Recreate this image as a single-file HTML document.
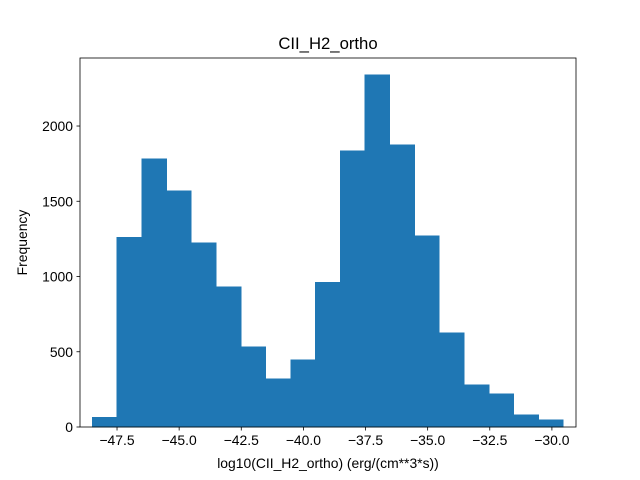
<!DOCTYPE html>
<html><head><meta charset="utf-8"><style>
body{margin:0;background:#fff}
svg{display:block;font-family:"Liberation Sans","DejaVu Sans",sans-serif}
</style></head><body>
<svg id="chart" width="640" height="480">
<text x="328" y="49" text-anchor="middle" font-size="16.7">CII_H2_ortho</text>
<text x="328" y="468" text-anchor="middle" font-size="13.9">log10(CII_H2_ortho) (erg/(cm**3*s))</text>
<text transform="translate(27,242.5) rotate(-90)" text-anchor="middle" font-size="13.9">Frequency</text>
</svg>
<script>
const binStart = -48.5;
const binWidth = 0.998;
const counts = [66,1262,1781,1568,1223,930,532,319,445,963,1834,2339,1874,1269,625,279,219,80,47];
const xTicks = [-47.5,-45,-42.5,-40,-37.5,-35,-32.5,-30];
const xTickLabels = ["−47.5","−45.0","−42.5","−40.0","−37.5","−35.0","−32.5","−30.0"];
const yTicks = [0,500,1000,1500,2000];
const yTickLabels = ["0","500","1000","1500","2000"];

const L=80,R=576,T=58,B=427;
const xMin=-48.99,xMax=-29.03,yMax=2452;
const xs=v=>L+(v-xMin)/(xMax-xMin)*(R-L);
const ys=v=>B-v/yMax*(B-T);
const svg=document.getElementById('chart');
const NS='http://www.w3.org/2000/svg';
function mk(tag,attrs){const e=document.createElementNS(NS,tag);for(const k in attrs)e.setAttribute(k,attrs[k]);svg.appendChild(e);return e;}

counts.forEach((c,i)=>{
  const x0=xs(binStart+i*binWidth),x1=xs(binStart+(i+1)*binWidth);
  const r=mk('rect',{x:x0,y:ys(c),width:x1-x0,height:B-ys(c),fill:'#1f77b4',stroke:'#1f77b4','stroke-width':0.6,'shape-rendering':'crispEdges'});
  
  
});
const frame=mk('rect',{x:L,y:T,width:R-L,height:B-T,fill:'none',stroke:'#000','stroke-width':0.8});



xTicks.forEach((v,i)=>{
  const x=xs(v);
  const t=mk('line',{x1:x,x2:x,y1:B,y2:B+3.5,stroke:'#000','stroke-width':0.8});
  
  
  const l=mk('text',{x:x,y:B+18,'text-anchor':'middle','font-size':13.9});
  l.textContent=xTickLabels[i];
  
  
});
yTicks.forEach((v,i)=>{
  const y=ys(v);
  const t=mk('line',{x1:L-3.5,x2:L,y1:y,y2:y,stroke:'#000','stroke-width':0.8});
  
  
  const l=mk('text',{x:L-7,y:y+5,'text-anchor':'end','font-size':13.9});
  l.textContent=yTickLabels[i];
  
  
});
</script>
</body></html>
